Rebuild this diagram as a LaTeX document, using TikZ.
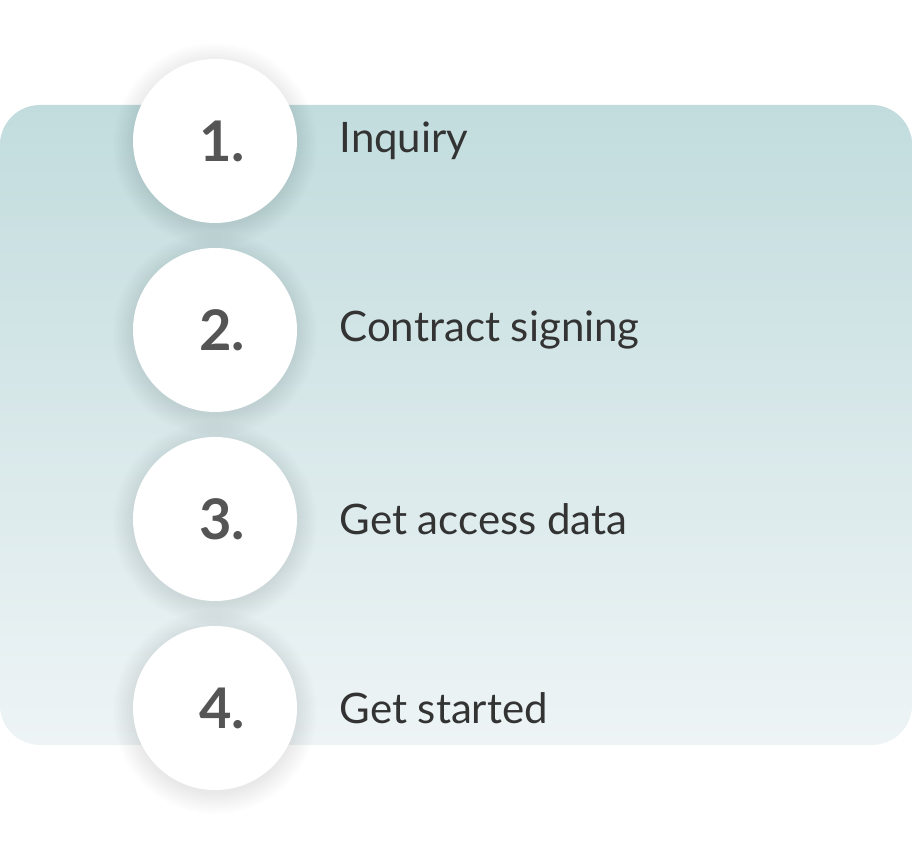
\documentclass[tikz,border=0pt]{standalone}
\usepackage{fontspec}
\setmainfont{Lato}
\usetikzlibrary{positioning}
\definecolor{bgtop}{HTML}{C2DCDD}
\definecolor{bgbot}{HTML}{EEF4F6}
\definecolor{numgray}{HTML}{555555}
\definecolor{txtgray}{HTML}{333333}
\tikzset{
stepcircle/.style={circle,fill=white,minimum size=164pt,inner sep=0pt,
  font=\fontsize{56}{56}\selectfont\bfseries,text=numgray},
steplabel/.style={anchor=west,font=\fontsize{42}{46}\selectfont,text=txtgray},
}
\begin{document}
\begin{tikzpicture}[x=1pt,y=1pt]
\useasboundingbox (0,0) rectangle (912,850);
\shade[top color=bgtop,bottom color=bgbot,rounded corners=40pt] (0,105) rectangle (912,745);
\foreach \n/\y/\t in {1/709/Inquiry,2/520/Contract signing,3/331/Get access data,4/142/Get started}{
  % soft shadow
  \foreach \r in {102,100,...,82}
    \fill[black,opacity=0.008] (215,\y-4) circle (\r pt);
  \node[stepcircle] (c\n) at (215,\y) {\hspace{14pt}\n.};
  \node[steplabel] (l\n) at (336,\y) {\t};
}
\end{tikzpicture}
\end{document}
